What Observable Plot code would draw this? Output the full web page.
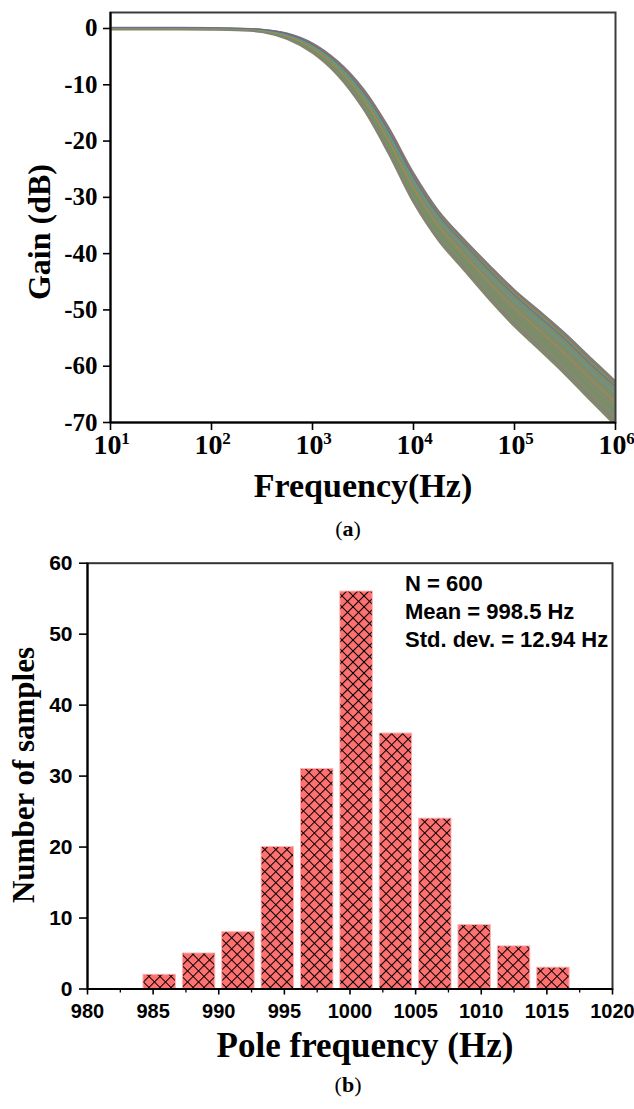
<!DOCTYPE html>
<html><head><meta charset="utf-8">
<script src="https://cdn.jsdelivr.net/npm/d3@7"></script>
<script src="https://cdn.jsdelivr.net/npm/@observablehq/plot@0.6"></script>
<style>
body{margin:0;background:#fff;}
#wrap{position:relative;width:634px;height:1109px;overflow:hidden;background:#fff;}
#wrap svg{position:absolute;left:0;overflow:visible;}
</style></head><body><div id="wrap"></div>
<script>
// ---------- Panel (a): Monte Carlo gain curves ----------
const freqHz = [10, 31.6, 100, 178, 316, 562, 1000, 1778, 3162, 5623, 10000, 17783, 31623, 56234, 100000, 177828, 316228, 562341, 1000000];
const gainUpper = [0.18, 0.18, 0.12, 0.03, -0.15, -0.85, -2.6, -5.8, -10.6, -17.4, -25.6, -32.4, -37.4, -42.0, -46.4, -50.2, -54.1, -58.4, -62.6];
const gainLower = [-0.25, -0.25, -0.28, -0.38, -0.70, -1.95, -4.4, -8.4, -14.3, -22.2, -31.0, -37.8, -43.0, -48.2, -53.0, -57.2, -61.5, -66.1, -70.6];
const traceRed     = [0.13, 0.13, 0.08, 0.00, -0.18, -0.9, -2.7, -5.9, -10.8, -17.6, -25.9, -32.7, -37.7, -42.3, -46.7, -50.5, -54.5, -58.8, -62.9];
const traceBlue    = [0.10, 0.10, 0.05, -0.04, -0.23, -1.0, -2.9, -6.2, -11.2, -18.1, -26.4, -33.2, -38.2, -43.0, -47.4, -51.3, -55.2, -59.6, -63.6];
const traceCyan    = [0.05, 0.05, 0.00, -0.09, -0.32, -1.2, -3.1, -6.6, -11.7, -18.8, -27.2, -34.0, -39.1, -44.0, -48.4, -52.3, -56.3, -60.7, -64.8];
const traceOrange  = [-0.02, -0.02, -0.07, -0.16, -0.42, -1.4, -3.5, -7.1, -12.4, -19.8, -28.3, -35.1, -40.2, -45.1, -49.7, -53.7, -57.8, -62.2, -66.4];
const traceGreen   = [-0.10, -0.10, -0.14, -0.24, -0.54, -1.6, -3.9, -7.6, -13.2, -20.8, -29.4, -36.2, -41.3, -46.4, -51.0, -55.1, -59.3, -63.8, -68.1];
const traceMagenta = [-0.17, -0.17, -0.22, -0.31, -0.65, -1.8, -4.2, -8.1, -13.9, -21.7, -30.5, -37.3, -42.4, -47.6, -52.4, -56.5, -60.8, -65.4, -69.8];
const gainTicks = [0, -10, -20, -30, -40, -50, -60, -70];
const decadeExponents = [1, 2, 3, 4, 5, 6];

// ---------- Panel (b): histogram of pole frequency ----------
const binStartHz = [984, 987, 990, 993, 996, 999, 1002, 1005, 1008, 1011, 1014];
const binWidthHz = 3;
const sampleCounts = [2, 5, 8, 20, 31, 56, 36, 24, 9, 6, 3];
const countTicks = [0, 10, 20, 30, 40, 50, 60];
const poleTicks = [980, 985, 990, 995, 1000, 1005, 1010, 1015, 1020];
const poleMinorTicks = [982.5, 987.5, 992.5, 997.5, 1002.5, 1007.5, 1012.5, 1017.5];
const statsLines = ["N = 600", "Mean = 998.5 Hz", "Std. dev. = 12.94 Hz"];

const SERIF = '"Liberation Serif","Times New Roman",serif';
const SANS = '"Liberation Sans",Arial,sans-serif';
const wrap = document.getElementById("wrap");

// ----- build panel (a)
const bandRows = freqHz.map((f, i) => ({f, hi: gainUpper[i], lo: gainLower[i]}));
const traces = [
  {vals: traceRed, color: "#e0402a"},
  {vals: traceBlue, color: "#2a62c8"},
  {vals: traceCyan, color: "#27b3c6"},
  {vals: traceOrange, color: "#d98a1c"},
  {vals: traceGreen, color: "#4ca83a"},
  {vals: traceMagenta, color: "#a05fb0"}
];
const decadeTicks = decadeExponents.map(e => Math.pow(10, e));

const traceMarks = traces.map(t =>
  Plot.line(freqHz.map((f, i) => ({f, g: t.vals[i]})), {
    x: "f", y: "g", stroke: t.color, strokeWidth: 0.8, strokeOpacity: 0.7, curve: "catmull-rom"
  })
);

const svgA = Plot.plot({
  width: 634, height: 520,
  marginTop: 12, marginLeft: 110, marginRight: 19, marginBottom: 98,
  style: {fontFamily: SERIF, background: "transparent", overflow: "visible"},
  x: {type: "log", domain: [10, 1e6]},
  y: {domain: [-70, 2.84]},
  clip: true,
  marks: [
    Plot.areaY(bandRows, {x: "f", y1: "lo", y2: "hi", fill: "#7f8b6c", curve: "catmull-rom"}),
    Plot.line(bandRows, {x: "f", y: "hi", stroke: "#6f7f84", strokeWidth: 1.4, curve: "catmull-rom"}),
    Plot.line(bandRows, {x: "f", y: "lo", stroke: "#808a62", strokeWidth: 1.4, curve: "catmull-rom"}),
    ...traceMarks,
    Plot.frame({stroke: "#3c3c3c", strokeWidth: 2, clip: false}),
    Plot.ruleX([10], {stroke: "#000", strokeWidth: 2, clip: false}),
    Plot.ruleY([-70], {stroke: "#000", strokeWidth: 2, clip: false}),
    Plot.axisY({ticks: gainTicks, tickSize: 7, tickFormat: () => "", label: null, strokeWidth: 1.6, color: "#000"}),
    Plot.text(gainTicks, {y: d => d, frameAnchor: "left", text: d => String(d), dx: -13, textAnchor: "end",
      fontSize: 25, fontWeight: "bold", fontFamily: SERIF, fill: "#000", clip: false}),
    Plot.axisX({ticks: decadeTicks, tickSize: 8, tickFormat: () => "", label: null, strokeWidth: 1.6, color: "#000"}),
    Plot.text(decadeTicks, {x: d => d, frameAnchor: "bottom", text: () => "10", dx: -3, dy: 31,
      fontSize: 28, fontWeight: "bold", fontFamily: SERIF, fill: "#000", clip: false}),
    Plot.text(decadeExponents, {x: (d, i) => decadeTicks[i], frameAnchor: "bottom", text: d => String(d), dx: 15, dy: 21,
      fontSize: 17, fontWeight: "bold", fontFamily: SERIF, fill: "#000", clip: false})
  ]
});
svgA.style.top = "0px";
wrap.appendChild(svgA);
{
  const s = d3.select(svgA);
  s.append("text").attr("x", 363).attr("y", 497).attr("text-anchor", "middle")
    .attr("font-family", SERIF).attr("font-weight", "bold").attr("font-size", 34).attr("fill", "#000")
    .text("Frequency(Hz)");
  s.append("text").attr("transform", "translate(50,232) rotate(-90)").attr("text-anchor", "middle")
    .attr("font-family", SERIF).attr("font-weight", "bold").attr("font-size", 32).attr("fill", "#000")
    .text("Gain (dB)");
}

// ----- build panel (b)
const bins = binStartHz.map((lo, i) => ({lo, hi: lo + binWidthHz, n: sampleCounts[i]}));
const svgB = Plot.plot({
  width: 634, height: 540,
  marginTop: 22.7, marginLeft: 87, marginRight: 22, marginBottom: 91.5,
  style: {fontFamily: SANS, background: "transparent", overflow: "visible"},
  x: {domain: [980, 1020]},
  y: {domain: [0, 60]},
  marks: [
    Plot.rectY(bins, {x1: "lo", x2: "hi", y: "n", fill: "#ff7171", stroke: "#ffb0b0", strokeWidth: 1, insetLeft: 3.5, insetRight: 3.5}),
    Plot.rectY(bins, {x1: "lo", x2: "hi", y: "n", fill: "url(#xhatch)", insetLeft: 4, insetRight: 4, insetTop: 0.5}),
    Plot.frame({stroke: "#333", strokeWidth: 2}),
    Plot.ruleX([980], {stroke: "#000", strokeWidth: 2}),
    Plot.ruleY([0], {stroke: "#000", strokeWidth: 2}),
    Plot.axisY({ticks: countTicks, tickSize: 8, tickFormat: () => "", label: null, strokeWidth: 1.6, color: "#000"}),
    Plot.text(countTicks, {y: d => d, frameAnchor: "left", text: d => String(d), dx: -15, textAnchor: "end",
      fontSize: 21, fontWeight: "bold", fontFamily: SANS, fill: "#000"}),
    Plot.axisX({ticks: poleTicks, tickSize: 6, tickFormat: () => "", label: null, strokeWidth: 1.6, color: "#000"}),
    Plot.text(poleTicks, {x: d => d, frameAnchor: "bottom", text: d => String(d), dy: 15, lineAnchor: "top",
      fontSize: 20, fontWeight: "bold", fontFamily: SANS, fill: "#000"}),
    Plot.axisX({ticks: poleMinorTicks, tickSize: 4, tickFormat: () => "", label: null, strokeWidth: 1.3, color: "#000"})
  ]
});
svgB.style.top = "540px";
wrap.appendChild(svgB);
{
  const s = d3.select(svgB);
  const defs = s.insert("defs", ":first-child");
  const pat = defs.append("pattern").attr("id", "xhatch").attr("patternUnits", "userSpaceOnUse")
    .attr("width", 7.8).attr("height", 7.8).attr("patternTransform", "rotate(45)");
  pat.append("path").attr("d", "M0,0.5H7.8M0.5,0V7.8").attr("stroke", "#000").attr("stroke-width", 1.1).attr("fill", "none");

  statsLines.forEach((t, i) => {
    s.append("text").attr("x", 405).attr("y", 51 + i * 28).attr("text-anchor", "start")
      .attr("font-family", SANS).attr("font-weight", "bold").attr("font-size", 22).attr("fill", "#000").text(t);
  });
  s.append("text").attr("x", 365).attr("y", 517).attr("text-anchor", "middle")
    .attr("font-family", SERIF).attr("font-weight", "bold").attr("font-size", 35).attr("fill", "#000")
    .text("Pole frequency (Hz)");
  s.append("text").attr("transform", "translate(34,235) rotate(-90)").attr("text-anchor", "middle")
    .attr("font-family", SERIF).attr("font-weight", "bold").attr("font-size", 31).attr("fill", "#000")
    .text("Number of samples");
}

// ----- captions
function caption(letter, top) {
  const d = document.createElement("div");
  d.style.cssText = `position:absolute;left:0;width:696px;top:${top}px;text-align:center;font-family:${SERIF};font-size:22px;color:#000;`;
  d.innerHTML = `(<b>${letter}</b>)`;
  wrap.appendChild(d);
}
caption("a", 516);
caption("b", 1072);
</script>
</body></html>
